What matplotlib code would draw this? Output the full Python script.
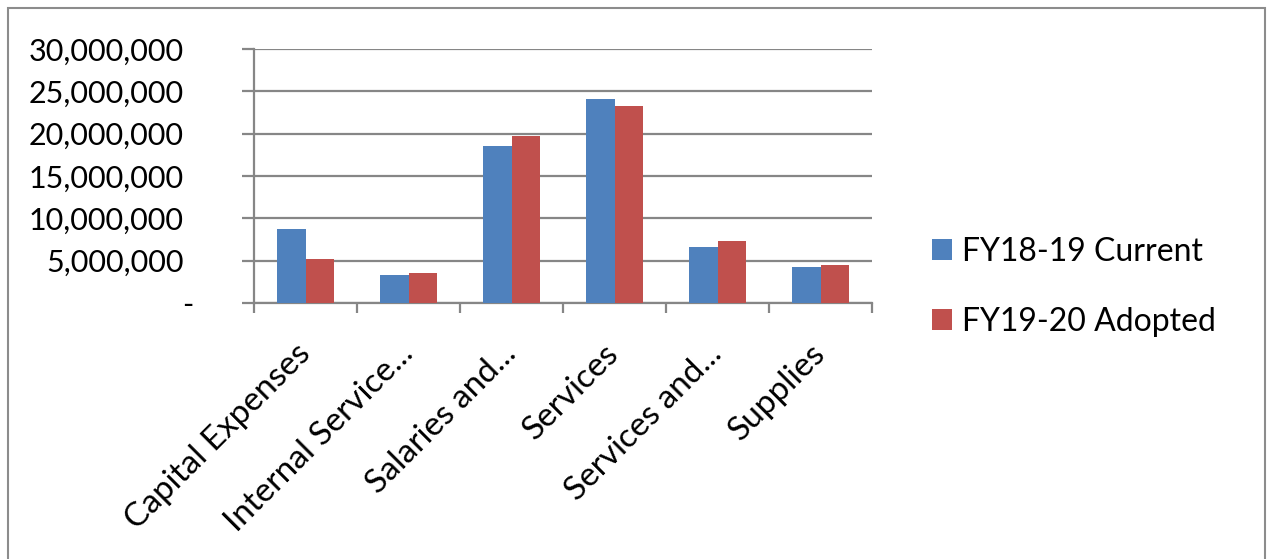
import numpy as np
import matplotlib
matplotlib.use("Agg")
from matplotlib import pyplot as plt
from matplotlib.patches import Rectangle
from matplotlib.ticker import FuncFormatter, FixedLocator
from matplotlib.transforms import ScaledTranslation

categories = ["Capital Expenses", "Internal Service...", "Salaries and...",
              "Services", "Services and...", "Supplies"]
fy1819_current = [8700000, 3310000, 18580000, 24060000, 6650000, 4210000]
fy1920_adopted = [5230000, 3580000, 19760000, 23230000, 7360000, 4490000]
series_names = ["FY18-19 Current", "FY19-20 Adopted"]
y_ticks = [0, 5000000, 10000000, 15000000, 20000000, 25000000, 30000000]


def fmt(v, pos):
    # zero is drawn separately as an accounting-style dash
    if v == 0:
        return ""
    return "{:,.0f}".format(v)


def main():
    plt.rcParams['font.family'] = ['Lato', 'DejaVu Sans']
    fig = plt.figure(figsize=(12.71, 5.59), dpi=100)
    ax = fig.add_axes([254 / 1271, 1 - 303 / 559, 618 / 1271, 254 / 559])

    # outer chart border
    fig.patches.append(Rectangle((8 / 1271, -0.05), 1257 / 1271, 1 - 8 / 559 + 0.05,
                                 transform=fig.transFigure, fill=False,
                                 edgecolor="#8c8c8c", linewidth=1.5))

    x = np.arange(len(categories))
    w = 0.28
    ax.bar(x - w / 2, fy1819_current, w, color="#4f81bd", label=series_names[0], zorder=3)
    ax.bar(x + w / 2, fy1920_adopted, w, color="#c0504d", label=series_names[1], zorder=3)

    ax.set_xlim(-0.5, len(categories) - 0.5)
    ax.set_ylim(0, 30000000)
    ax.set_yticks(y_ticks)
    ax.yaxis.set_major_formatter(FuncFormatter(fmt))
    ax.yaxis.grid(True, color="#868686", linewidth=1.6, zorder=0)
    ax.annotate("-", xy=(0, y_ticks[0]), xycoords=("axes fraction", "data"),
                xytext=(-47.5, 0), textcoords="offset points",
                ha="center", va="center_baseline", fontsize=22, annotation_clip=False)

    # category labels centred, ticks on boundaries
    ax.set_xticks(x)
    ax.set_xticklabels(categories, rotation=45, ha="right", va="center",
                       rotation_mode="anchor", fontsize=24)
    shift = ScaledTranslation(5 / 100, 0, fig.dpi_scale_trans)
    for lab in ax.get_xticklabels():
        lab.set_transform(lab.get_transform() + shift)
    ax.xaxis.set_minor_locator(FixedLocator(np.arange(-0.5, len(categories), 1.0)))
    ax.tick_params(axis="x", which="major", length=0, pad=33)
    ax.tick_params(axis="x", which="minor", length=7.5, width=1.6, color="#868686")
    ax.tick_params(axis="y", length=8.5, width=1.6, color="#868686", pad=42, labelsize=22)

    for s in ["top", "right"]:
        ax.spines[s].set_visible(False)
    for s in ["left", "bottom"]:
        ax.spines[s].set_color("#868686")
        ax.spines[s].set_linewidth(1.6)

    fig.legend(loc="center left", bbox_to_anchor=(932 / 1271, 1 - 287 / 559),
               frameon=False, fontsize=23, handlelength=0.63, handleheight=0.63,
               handletextpad=0.31, labelspacing=1.25, borderpad=0, borderaxespad=0)

    fig.savefig("out.png", dpi=100)


if __name__ == '__main__':
    main()
